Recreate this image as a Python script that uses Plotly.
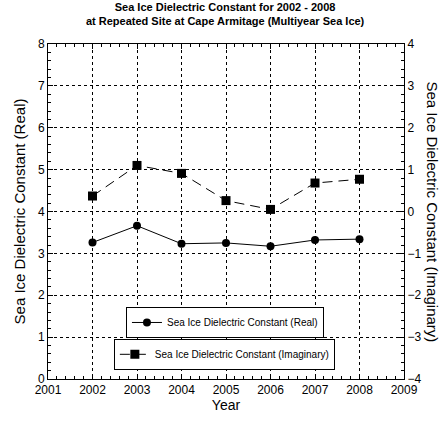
import plotly.graph_objects as go

years = [2002, 2003, 2004, 2005, 2006, 2007, 2008]
real_values = [3.26, 3.66, 3.23, 3.25, 3.17, 3.32, 3.34]
imag_values = [0.37, 1.10, 0.91, 0.26, 0.05, 0.68, 0.77]

x_ticks = list(range(2001, 2010))
left_ticks = list(range(0, 9))
right_ticks = list(range(-4, 5))

FONT = "Liberation Sans, Arial, sans-serif"

fig = go.Figure()
fig.add_trace(go.Scatter(
    x=years, y=real_values, mode="lines+markers",
    name="Sea Ice Dielectric Constant (Real)",
    line=dict(color="black", width=1),
    marker=dict(symbol="circle", size=8, color="black"),
    legend="legend", showlegend=True,
))
fig.add_trace(go.Scatter(
    x=years, y=imag_values, mode="lines+markers", yaxis="y2",
    name="Sea Ice Dielectric Constant (Imaginary)",
    line=dict(color="black", width=1, dash="10px,6px"),
    marker=dict(symbol="square", size=9, color="black"),
    legend="legend2", showlegend=True,
))

axis_common = dict(
    showline=True, linecolor="black", linewidth=1,
    ticks="inside", ticklen=5, tickcolor="black", tickwidth=1,
    minor=dict(ticks="inside", ticklen=3, tickcolor="black", tickwidth=1,
               dtick=0.2, showgrid=False),
    tickfont=dict(family=FONT, size=12, color="black"),
    tickmode="linear", dtick=1,
    zeroline=False, layer="above traces",
)

fig.update_layout(
    width=444, height=421,
    margin=dict(l=48, r=40, t=44, b=36),
    paper_bgcolor="white", plot_bgcolor="white",
    font=dict(family=FONT, color="black"),
    title=dict(
        text="<b>Sea Ice Dielectric Constant for 2002 - 2008<br>at Repeated Site at Cape Armitage (Multiyear Sea Ice)</b>",
        font=dict(family=FONT, size=11, color="black"),
        x=0.507, xanchor="center", y=0.975, yanchor="top",
    ),
    xaxis=dict(
        range=[x_ticks[0], x_ticks[-1]], tick0=x_ticks[0], mirror="ticks",
        showgrid=True, gridcolor="black", griddash="dot", gridwidth=1,
        title=dict(text="Year", font=dict(family=FONT, size=14), standoff=2),
        **axis_common,
    ),
    yaxis=dict(
        range=[left_ticks[0], left_ticks[-1]], tick0=left_ticks[0],
        showgrid=True, gridcolor="black", griddash="dot", gridwidth=1,
        title=dict(text="Sea Ice Dielectric Constant (Real)", font=dict(family=FONT, size=15), standoff=8),
        **axis_common,
    ),
    yaxis2=dict(
        range=[right_ticks[0], right_ticks[-1]], tick0=right_ticks[0],
        overlaying="y", side="right", showgrid=False,
        **axis_common,
    ),
    legend=dict(
        x=0.219, y=0.215, xanchor="left", yanchor="top",
        bgcolor="white", bordercolor="black", borderwidth=1,
        font=dict(family=FONT, size=10, color="black"),
        itemwidth=30, tracegroupgap=0,
    ),
    legend2=dict(
        x=0.185, y=0.12, xanchor="left", yanchor="top",
        bgcolor="white", bordercolor="black", borderwidth=1,
        font=dict(family=FONT, size=10, color="black"),
        itemwidth=30, tracegroupgap=0,
    ),
    annotations=[dict(
        text="Sea Ice Dielectric Constant (Imaginary)",
        xref="paper", yref="paper", x=1.079, y=0.5,
        xanchor="center", yanchor="middle", textangle=90, showarrow=False,
        font=dict(family=FONT, size=15, color="black"),
    )],
)

fig.write_html("out.html")
